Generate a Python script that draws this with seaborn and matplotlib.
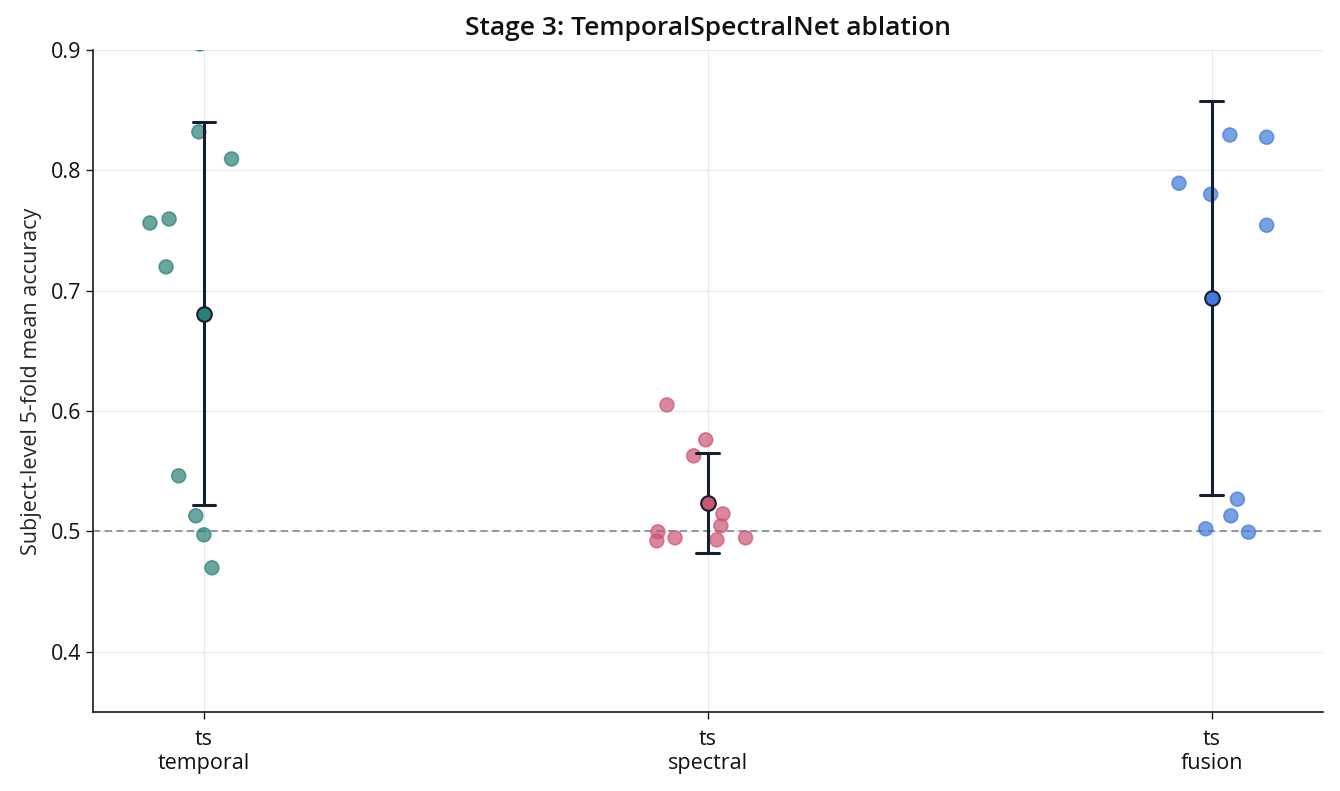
import matplotlib
matplotlib.use("Agg")
import matplotlib.pyplot as plt
import numpy as np
import pandas as pd
import seaborn as sns

#%% data
groups = ["ts_temporal", "ts_spectral", "ts_fusion"]
tick_labels = ["ts\ntemporal", "ts\nspectral", "ts\nfusion"]

acc_temporal = [0.905, 0.832, 0.8095, 0.7563, 0.7596, 0.7198, 0.5462, 0.5130, 0.4972, 0.4698]
acc_spectral = [0.6051, 0.5761, 0.5628, 0.5146, 0.5047, 0.4997, 0.4922, 0.4947, 0.4930, 0.4947]
acc_fusion = [0.8294, 0.8275, 0.7893, 0.7801, 0.7544, 0.5268, 0.5130, 0.5022, 0.4994, 0.916]

# horizontal jitter of the subject dots
jit_temporal = [-0.008, -0.010, 0.055, -0.107, -0.069, -0.075, -0.050, -0.016, 0.000, 0.016]
jit_spectral = [-0.081, -0.004, -0.028, 0.030, 0.026, -0.099, -0.101, -0.065, 0.018, 0.075]
jit_fusion = [0.036, 0.109, -0.065, -0.002, 0.109, 0.051, 0.038, -0.012, 0.073, 0.000]

chance = 0.5

#%% build long table
rows = []
for i, (g, acc, jit) in enumerate(zip(groups,
                                      [acc_temporal, acc_spectral, acc_fusion],
                                      [jit_temporal, jit_spectral, jit_fusion])):
    for a, j in zip(acc, jit):
        rows.append({"group": g, "pos": i, "xj": i + j, "acc": a})
df = pd.DataFrame(rows)

palette = {"ts_temporal": "#2a8078", "ts_spectral": "#cc5474", "ts_fusion": "#3f7ad9"}
navy = "#161e33"

#%% plot
sns.set_theme(style="white")
plt.rcParams["font.family"] = ["Open Sans", "DejaVu Sans"]
plt.rcParams["text.color"] = "#111111"

fig = plt.figure(figsize=(13.4, 7.91), dpi=100)
ax = fig.add_axes([0.0694, 0.0999, 0.9176, 0.8369])

ax.grid(True, color="#e9e9e9", linewidth=0.9, zorder=0)
ax.set_axisbelow(True)

ax.axhline(chance, color="#8590a2", linestyle=(0, (4, 2.5)), linewidth=1.3, zorder=1.5)

sns.scatterplot(data=df, x="xj", y="acc", hue="group", palette=palette,
                s=100, alpha=0.7, linewidth=1.2, ax=ax, legend=False, zorder=2)
# edges in the same colour as the faces
for coll in ax.collections:
    coll.set_edgecolor(coll.get_facecolor())

sns.pointplot(data=df, x="pos", y="acc", native_scale=True, errorbar="sd",
              color=navy, markers="", linestyle="none", capsize=0.045,
              err_kws={"linewidth": 2.2}, ax=ax, zorder=3)

sns.pointplot(data=df, x="pos", y="acc", hue="group", palette=palette,
              native_scale=True, errorbar=None, markers="o", linestyle="none",
              markersize=10.5, markeredgecolor=navy, markeredgewidth=1.5,
              ax=ax, legend=False, zorder=4)

ax.set_xlim(-0.22, 2.22)
ax.set_ylim(0.35, 0.9)
ax.set_xticks([0, 1, 2])
ax.set_xticklabels(tick_labels)
ax.set_yticks([0.4, 0.5, 0.6, 0.7, 0.8, 0.9])
ax.set_xlabel("")
ax.set_ylabel("Subject-level 5-fold mean accuracy", fontsize=15.5, labelpad=6)
ax.set_title("Stage 3: TemporalSpectralNet ablation", fontsize=19,
             fontweight="semibold", pad=11)

ax.tick_params(axis="both", labelsize=15.5, length=5, width=1, color="#1a1a1a",
               labelcolor="#111111", bottom=True, left=True, direction="out")
ax.tick_params(axis="x", pad=7)
for s in ["top", "right"]:
    ax.spines[s].set_visible(False)
for s in ["left", "bottom"]:
    ax.spines[s].set_color("#1a1a1a")
    ax.spines[s].set_linewidth(1.2)

fig.savefig("out.png", dpi=100)
